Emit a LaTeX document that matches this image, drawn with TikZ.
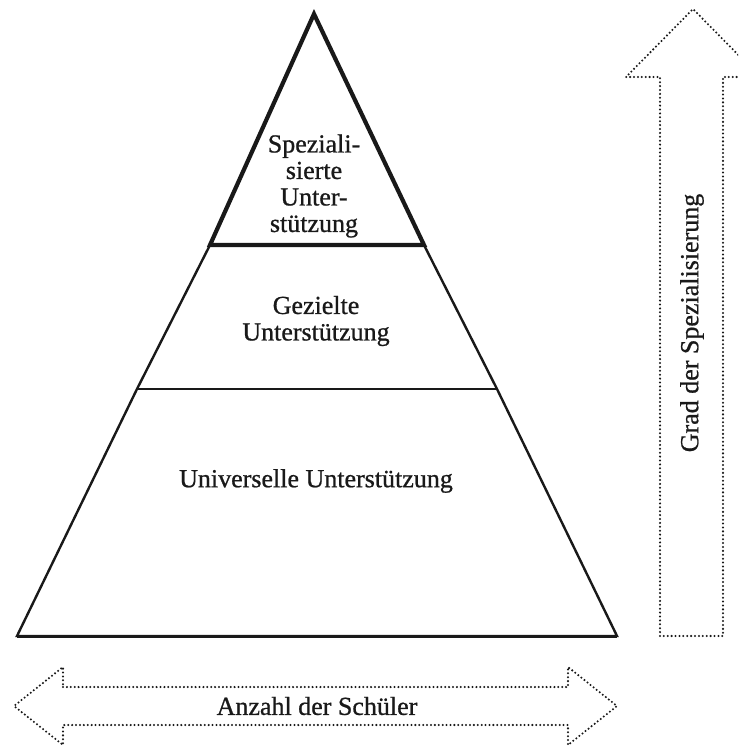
\documentclass[tikz,border=0pt]{standalone}
\usepackage{fontspec}
\setmainfont{Liberation Serif}[FakeBold=0.8]
\begin{document}
\begin{tikzpicture}[x=1pt,y=-1pt,
  label/.style={font=\fontsize{26}{26.5}\selectfont, align=center, inner sep=0pt, text=black!90},
  tier/.style={draw=black!90, line width=2.4pt, line join=miter},
  toptier/.style={draw=black!90, line width=4.2pt, line join=miter},
  dotarrow/.style={draw=black!90, line width=2.3pt, line cap=round,
                   dash pattern=on 0pt off 3.9pt, line join=round}]
  \useasboundingbox (0,0) rectangle (738,746);
  \clip (0,0) rectangle (738,746);

  % pyramid corner points
  \coordinate (apex) at (314,14);
  \coordinate (l1) at (210,245);
  \coordinate (r1) at (424,245);
  \coordinate (l2) at (137,389);
  \coordinate (r2) at (497,389);
  \coordinate (bl) at (17,636);
  \coordinate (br) at (617,636);

  % lower tiers
  \draw[tier] (l1) -- (l2) -- (bl) -- (br) -- (r2) -- (r1);
  \draw[tier] (l2) -- (r2);
  \draw[draw=black!90, line width=3pt] (bl) -- (br);
  % top tier
  \draw[toptier] (apex) -- (l1) -- (r1) -- cycle;

  % tier labels
  \node[label] (spec) at (314,186) {Speziali-\\sierte\\Unter-\\stützung};
  \node[label] (ziel) at (316,321) {Gezielte\\Unterstützung};
  \node[label] (univ) at (316,481) {Universelle Unterstützung};

  % vertical arrow: degree of specialisation
  \draw[dotarrow] (660,636) -- (660,77) -- (626,77) -- (693,9) -- (760,77)
                  -- (723,77) -- (723,636) -- cycle;
  \node[label, rotate=90] (grad) at (692,323) {Grad der Spezialisierung};

  % horizontal double arrow: number of pupils
  \draw[dotarrow] (63,687) -- (568,687) -- (568,667) -- (617,706) -- (568,745)
                  -- (568,725) -- (63,725) -- (63,745) -- (14,706) -- (63,667) -- cycle;
  \node[label] (anz) at (317,706) {Anzahl der Schüler};
\end{tikzpicture}
\end{document}
